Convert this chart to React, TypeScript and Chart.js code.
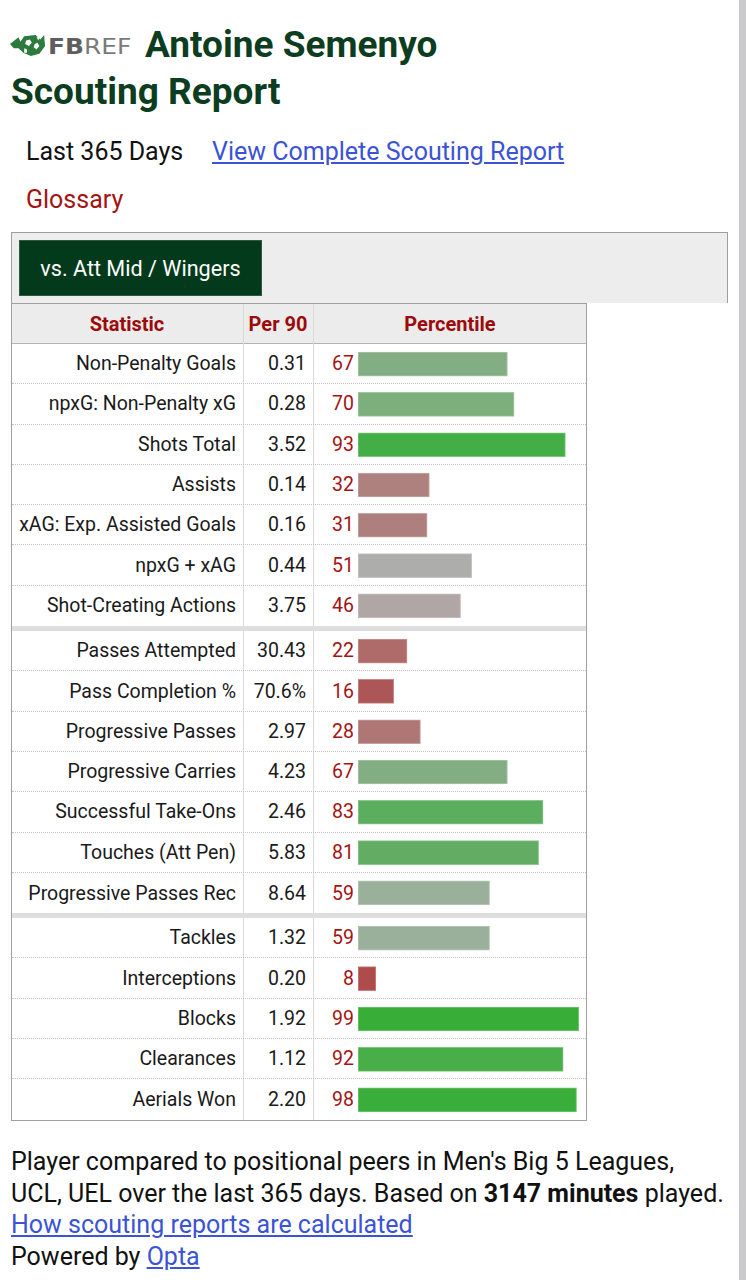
import React, { useEffect, useRef } from "react";
import { Chart, registerables } from "chart.js";

Chart.register(...registerables);

// ---------- data ----------
const statNames = [
  "Non-Penalty Goals",
  "npxG: Non-Penalty xG",
  "Shots Total",
  "Assists",
  "xAG: Exp. Assisted Goals",
  "npxG + xAG",
  "Shot-Creating Actions",
  "Passes Attempted",
  "Pass Completion %",
  "Progressive Passes",
  "Progressive Carries",
  "Successful Take-Ons",
  "Touches (Att Pen)",
  "Progressive Passes Rec",
  "Tackles",
  "Interceptions",
  "Blocks",
  "Clearances",
  "Aerials Won",
];
const per90Values = [
  "0.31", "0.28", "3.52", "0.14", "0.16", "0.44", "3.75",
  "30.43", "70.6%", "2.97", "4.23", "2.46", "5.83", "8.64",
  "1.32", "0.20", "1.92", "1.12", "2.20",
];
const percentiles = [
  67, 70, 93, 32, 31, 51, 46,
  22, 16, 28, 67, 83, 81, 59,
  59, 8, 99, 92, 98,
];
const groupSizes = [7, 7, 5];
const barColors = [
  "#83ae84", "#7daf7c", "#44ae46", "#ae807e", "#ad7f7d", "#adaeab", "#afa6a5",
  "#af6b69", "#ad5657", "#ae7775", "#83ae84", "#5bae5e", "#62ad63", "#9ab09a",
  "#9ab09a", "#ae4b4b", "#38ae38", "#47ae48", "#3aae3a",
];

// ---------- layout constants ----------
const ROW_H = 40.3;
const SEP_H = 5;
const TABLE_L = 11;
const TABLE_R = 587;
const TABLE_TOP = 303;
const HEADER_BOTTOM = 344;
const COL1 = 243;
const COL2 = 313;
const BAR_LEFT = 358;
const BAR_W = 223;

const FONT = "Roboto, 'Noto Sans', sans-serif";
const DARK_RED = "#a31414";
const LINK_BLUE = "#3b53d6";

function lighten(hex: string, amt: number) {
  const n = parseInt(hex.slice(1), 16);
  const r = (n >> 16) & 255;
  const g = (n >> 8) & 255;
  const b = n & 255;
  const f = (c: number) => Math.round(c + (255 - c) * amt);
  return `rgb(${f(r)},${f(g)},${f(b)})`;
}

function groupTops() {
  const tops: number[] = [];
  let y = HEADER_BOTTOM;
  groupSizes.forEach((n) => {
    tops.push(y);
    y += n * ROW_H + SEP_H;
  });
  return tops;
}

function GroupChart({ start, count, top }: { start: number; count: number; top: number }) {
  const ref = useRef<HTMLCanvasElement>(null);
  const h = Math.round(count * ROW_H);
  useEffect(() => {
    if (!ref.current) return;
    const labels = statNames.slice(start, start + count);
    const data = percentiles.slice(start, start + count);
    const colors = barColors.slice(start, start + count);
    const chart = new Chart(ref.current, {
      type: "bar",
      data: {
        labels,
        datasets: [
          {
            data,
            backgroundColor: colors,
            borderColor: colors.map((c) => lighten(c, 0.3)),
            borderWidth: 1,
            borderSkipped: false,
            barThickness: 24,
          },
        ],
      },
      options: {
        indexAxis: "y",
        animation: false,
        responsive: false,
        maintainAspectRatio: false,
        layout: { padding: 0 },
        plugins: { legend: { display: false }, tooltip: { enabled: false } },
        scales: {
          x: { min: 0, max: 100, display: false },
          y: { display: false },
        },
      },
    });
    return () => chart.destroy();
  }, [start, count]);
  return (
    <div style={{ position: "absolute", left: BAR_LEFT, top, width: BAR_W, height: h, pointerEvents: "none" }}>
      <canvas ref={ref} width={BAR_W} height={h} style={{ display: "block" }} />
    </div>
  );
}

function T({
  x,
  baseline,
  size,
  children,
  style,
}: {
  x: number;
  baseline: number;
  size: number;
  children: React.ReactNode;
  style?: React.CSSProperties;
}) {
  return (
    <div
      style={{
        position: "absolute",
        left: x,
        top: baseline - 0.842 * size,
        fontSize: size,
        lineHeight: `${size}px`,
        fontFamily: FONT,
        whiteSpace: "nowrap",
        color: "#111",
        ...style,
      }}
    >
      {children}
    </div>
  );
}

function Logo() {
  return (
    <>
      <svg
        width={36}
        height={22}
        viewBox="0 0 38 20"
        preserveAspectRatio="none"
        style={{ position: "absolute", left: 10, top: 34 }}
      >
        <path
          d="M0 9 L9 3 L11 7 L15 2 L27 1 L32 5 L36 1 L37 11 L31 18 L22 20 L14 17 L9 13 L4 13 Z"
          fill="#2c7a3c"
        />
        <path d="M17 6 L21 5 L23 8 L20 11 L16 9 Z" fill="#fff" />
        <path d="M26 9 L29 8 L31 11 L28 14 L25 12 Z" fill="#fff" />
        <path d="M15 13 L18 14 L18 17 L15 17 Z" fill="#fff" />
        <path d="M28 3 L31 3 L30 6 Z" fill="#fff" />
      </svg>
      <div
        style={{
          position: "absolute",
          left: 48,
          top: 55 - 0.842 * 22,
          fontSize: 22,
          lineHeight: "22px",
          fontFamily: "'DejaVu Sans', sans-serif",
          whiteSpace: "nowrap",
          transform: "scaleX(1.13)",
          transformOrigin: "left center",
        }}
      >
        <span style={{ fontWeight: 700, color: "#5e5e5e" }}>FB</span>
        <span style={{ fontWeight: 400, color: "#7a7a7a" }}>REF</span>
      </div>
    </>
  );
}

export default function App() {
  const tops = groupTops();
  const rows: React.ReactNode[] = [];
  let idx = 0;
  groupSizes.forEach((n, g) => {
    for (let i = 0; i < n; i++) {
      const k = idx;
      const top = tops[g] + i * ROW_H;
      const last = i === n - 1;
      rows.push(
        <div
          key={"r" + k}
          style={{
            position: "absolute",
            left: TABLE_L + 1,
            top,
            width: TABLE_R - TABLE_L - 2,
            height: ROW_H,
            boxSizing: "border-box",
            borderBottom: last ? "none" : "1px dotted #c4c4c4",
            fontFamily: FONT,
            fontSize: 19.5,
            color: "#1a1a1a",
          }}
        >
          <div
            style={{
              position: "absolute",
              left: 0,
              width: COL1 - TABLE_L - 1,
              top: 0,
              bottom: 0,
              display: "flex",
              alignItems: "center",
              justifyContent: "flex-end",
              paddingRight: 7,
              boxSizing: "border-box",
              whiteSpace: "nowrap",
            }}
          >
            {statNames[k]}
          </div>
          <div
            style={{
              position: "absolute",
              left: COL1 - TABLE_L - 1,
              width: COL2 - COL1,
              top: 0,
              bottom: 0,
              display: "flex",
              alignItems: "center",
              justifyContent: "flex-end",
              paddingRight: 7,
              boxSizing: "border-box",
            }}
          >
            {per90Values[k]}
          </div>
          <div
            style={{
              position: "absolute",
              left: COL2 - TABLE_L - 1,
              width: 41,
              top: 0,
              bottom: 0,
              display: "flex",
              alignItems: "center",
              justifyContent: "flex-end",
              color: DARK_RED,
            }}
          >
            {percentiles[k]}
          </div>
        </div>
      );
      idx++;
    }
  });

  const seps: React.ReactNode[] = [];
  groupSizes.forEach((n, g) => {
    if (g < groupSizes.length - 1) {
      seps.push(
        <div
          key={"s" + g}
          style={{
            position: "absolute",
            left: TABLE_L + 1,
            width: TABLE_R - TABLE_L - 2,
            top: tops[g] + n * ROW_H,
            height: SEP_H,
            background: "#dedede",
          }}
        />
      );
    }
  });

  const charts: React.ReactNode[] = [];
  let s = 0;
  groupSizes.forEach((n, g) => {
    charts.push(<GroupChart key={"c" + g} start={s} count={n} top={tops[g]} />);
    s += n;
  });

  const tableBottom = tops[2] + groupSizes[2] * ROW_H;

  return (
    <div
      style={{
        position: "absolute",
        left: 0,
        top: 0,
        width: 746,
        height: 1280,
        background: "#fff",
        overflow: "hidden",
        fontFamily: FONT,
      }}
    >
      <Logo />
      <T x={145} baseline={57} size={37} style={{ fontWeight: 700, color: "#0d3d20" }}>
        Antoine Semenyo
      </T>
      <T x={11} baseline={104} size={37} style={{ fontWeight: 700, color: "#0d3d20" }}>
        Scouting Report
      </T>
      <T x={26} baseline={160} size={25}>
        Last 365 Days
      </T>
      <T x={212} baseline={160} size={25} style={{ color: LINK_BLUE, textDecoration: "underline" }}>
        View Complete Scouting Report
      </T>
      <T x={26} baseline={208} size={25} style={{ color: DARK_RED }}>
        Glossary
      </T>

      {/* filter box */}
      <div
        style={{
          position: "absolute",
          left: TABLE_L,
          top: 232,
          width: 728 - TABLE_L,
          height: TABLE_TOP - 232,
          boxSizing: "border-box",
          background: "#ededed",
          borderTop: "1px solid #9e9e9e",
          borderLeft: "1px solid #9e9e9e",
          borderRight: "1px solid #9e9e9e",
        }}
      />
      <div
        style={{
          position: "absolute",
          left: 19,
          top: 240,
          width: 243,
          height: 56,
          boxSizing: "border-box",
          background: "#043a1c",
          border: "1px solid #2f5a3e",
          color: "#fff",
          display: "flex",
          alignItems: "center",
          justifyContent: "center",
          fontSize: 21.6,
          fontFamily: FONT,
          whiteSpace: "nowrap",
        }}
      >
        vs. Att Mid / Wingers
      </div>

      {/* table frame */}
      <div
        style={{
          position: "absolute",
          left: TABLE_L,
          top: TABLE_TOP,
          width: TABLE_R - TABLE_L,
          height: tableBottom + 1 - TABLE_TOP,
          boxSizing: "border-box",
          border: "1px solid #a0a0a0",
          background: "#fff",
        }}
      />
      {/* header */}
      <div
        style={{
          position: "absolute",
          left: TABLE_L + 1,
          top: TABLE_TOP + 1,
          width: TABLE_R - TABLE_L - 2,
          height: HEADER_BOTTOM - TABLE_TOP - 1,
          boxSizing: "border-box",
          background: "#ececec",
          borderBottom: "1px solid #b4b4b4",
        }}
      />
      {/* column lines */}
      {[COL1, COL2].map((x) => (
        <div
          key={"col" + x}
          style={{
            position: "absolute",
            left: x,
            top: TABLE_TOP + 1,
            width: 1,
            height: tableBottom - TABLE_TOP - 1,
            background: "#dadada",
          }}
        />
      ))}
      {[
        { label: "Statistic", l: TABLE_L, r: COL1 },
        { label: "Per 90", l: COL1, r: COL2 },
        { label: "Percentile", l: COL2, r: TABLE_R },
      ].map((h) => (
        <div
          key={h.label}
          style={{
            position: "absolute",
            left: h.l,
            width: h.r - h.l,
            top: TABLE_TOP + 1,
            height: HEADER_BOTTOM - TABLE_TOP - 2,
            display: "flex",
            alignItems: "center",
            justifyContent: "center",
            fontWeight: 700,
            fontSize: 20,
            color: "#9b0b0b",
            fontFamily: FONT,
          }}
        >
          {h.label}
        </div>
      ))}
      {rows}
      {seps}
      {charts}

      {/* footer */}
      <div
        style={{
          position: "absolute",
          left: 11,
          top: 1146,
          width: 730,
          fontSize: 25,
          lineHeight: "31.6px",
          fontFamily: FONT,
          color: "#111",
          whiteSpace: "nowrap",
        }}
      >
        <div>Player compared to positional peers in Men's Big 5 Leagues,</div>
        <div>
          UCL, UEL over the last 365 days. Based on <b>3147 minutes</b> played.
        </div>
        <div style={{ color: LINK_BLUE, textDecoration: "underline" }}>How scouting reports are calculated</div>
        <div>
          Powered by <span style={{ color: LINK_BLUE, textDecoration: "underline" }}>Opta</span>
        </div>
      </div>

      {/* right scroll strip */}
      <div style={{ position: "absolute", left: 739, top: 0, width: 7, height: 1280, background: "#cacacc" }} />
    </div>
  );
}
